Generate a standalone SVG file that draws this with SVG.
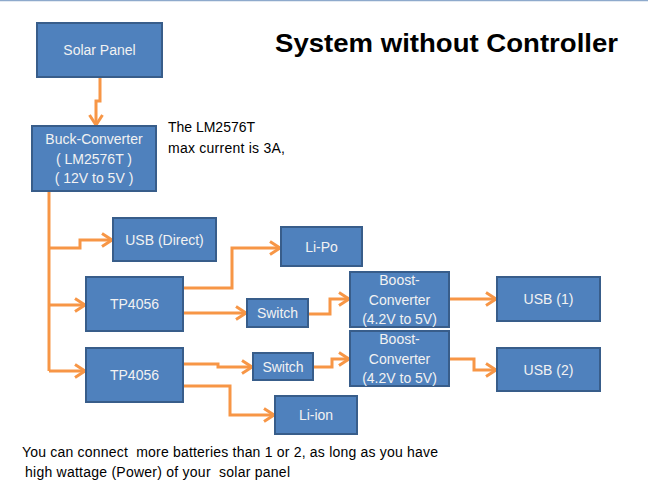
<svg xmlns="http://www.w3.org/2000/svg" width="648" height="488" viewBox="0 0 648 488">
<style>
.box{fill:#4F81BD;stroke:#385D8A;stroke-width:2}
.lbl{font-family:"Liberation Sans",Arial,sans-serif;font-size:14px;fill:#F2F2F2;text-anchor:middle}
.con{fill:none;stroke:#F79646;stroke-width:3;stroke-linejoin:miter}
.note{font-family:"Liberation Sans",Arial,sans-serif;font-size:14px;fill:#000;white-space:pre}
</style>
<defs>
<marker id="ah" markerUnits="userSpaceOnUse" viewBox="0 0 14 16" markerWidth="14" markerHeight="16" refX="12" refY="8" orient="auto">
<path d="M2,1.5 L12,8 L2,14.5" fill="none" stroke="#F79646" stroke-width="3"/>
</marker>
</defs>
<rect x="0" y="0" width="648" height="488" fill="#fff"/>
<line x1="0" y1="0.5" x2="648" y2="0.5" stroke="#8EAACC" stroke-width="1.5"/>
<text x="275" y="52" font-family="'Liberation Sans',Arial,sans-serif" font-size="26" font-weight="bold" textLength="343" lengthAdjust="spacingAndGlyphs">System without Controller</text>
<g id="connectors">
<path class="con" marker-end="url(#ah)" d="M100,77 V101 H96 V125"/>
<path class="con" d="M49,191 V371"/>
<path class="con" marker-end="url(#ah)" d="M49,248 H80 V240 H112"/>
<path class="con" marker-end="url(#ah)" d="M49,305 H85"/>
<path class="con" marker-end="url(#ah)" d="M49,371 H85"/>
<path class="con" marker-end="url(#ah)" d="M183,288 H232 V248 H280"/>
<path class="con" marker-end="url(#ah)" d="M183,313 H246"/>
<path class="con" marker-end="url(#ah)" d="M308,314 H330 V299 H349"/>
<path class="con" marker-end="url(#ah)" d="M449,299 H496"/>
<path class="con" marker-end="url(#ah)" d="M183,364 H218 V367 H252"/>
<path class="con" marker-end="url(#ah)" d="M313,367 H332 V359 H349"/>
<path class="con" marker-end="url(#ah)" d="M449,359 H474 V370 H496"/>
<path class="con" marker-end="url(#ah)" d="M183,386 H230 V415 H274"/>
</g>
<g id="solar"><rect class="box" x="37" y="23" width="125" height="54"/><text class="lbl" x="99.5" y="55">Solar Panel</text></g>
<g id="buck"><rect class="box" x="32" y="126" width="124" height="65"/>
<text class="lbl" x="94" y="144">Buck-Converter</text>
<text class="lbl" x="94" y="164">( LM2576T )</text>
<text class="lbl" x="94" y="183">( 12V to 5V )</text></g>
<g id="usbdirect"><rect class="box" x="113" y="218" width="103" height="43"/><text class="lbl" x="164.5" y="245">USB (Direct)</text></g>
<g id="tp1"><rect class="box" x="86" y="277" width="97" height="54"/><text class="lbl" x="134.5" y="309">TP4056</text></g>
<g id="tp2"><rect class="box" x="86" y="348" width="97" height="54"/><text class="lbl" x="134.5" y="380">TP4056</text></g>
<g id="lipo"><rect class="box" x="281" y="227" width="81" height="39"/><text class="lbl" x="321.5" y="252">Li-Po</text></g>
<g id="sw1"><rect class="box" x="247" y="299" width="61" height="28"/><text class="lbl" x="277.5" y="318">Switch</text></g>
<g id="sw2"><rect class="box" x="253" y="353" width="60" height="27"/><text class="lbl" x="283" y="372">Switch</text></g>
<g id="boost1"><rect class="box" x="350" y="272" width="99" height="55"/>
<text class="lbl" x="399.5" y="285">Boost-</text>
<text class="lbl" x="399.5" y="305">Converter</text>
<text class="lbl" x="399.5" y="324">(4.2V to 5V)</text></g>
<g id="boost2"><rect class="box" x="350" y="331" width="99" height="55"/>
<text class="lbl" x="399.5" y="344">Boost-</text>
<text class="lbl" x="399.5" y="364">Converter</text>
<text class="lbl" x="399.5" y="383">(4.2V to 5V)</text></g>
<g id="usb1"><rect class="box" x="497" y="277" width="103" height="44"/><text class="lbl" x="548.5" y="304">USB (1)</text></g>
<g id="usb2"><rect class="box" x="497" y="348" width="103" height="43"/><text class="lbl" x="548.5" y="375">USB (2)</text></g>
<g id="liion"><rect class="box" x="275" y="396" width="82" height="38"/><text class="lbl" x="316" y="420">Li-ion</text></g>
<text class="note" x="168" y="132" textLength="87">The LM2576T</text>
<text class="note" x="168" y="153" textLength="117">max current is 3A,</text>
<text class="note" x="22" y="457" textLength="416">You can connect  more batteries than 1 or 2, as long as you have</text>
<text class="note" x="25" y="477" textLength="265">high wattage (Power) of your  solar panel</text>
</svg>
